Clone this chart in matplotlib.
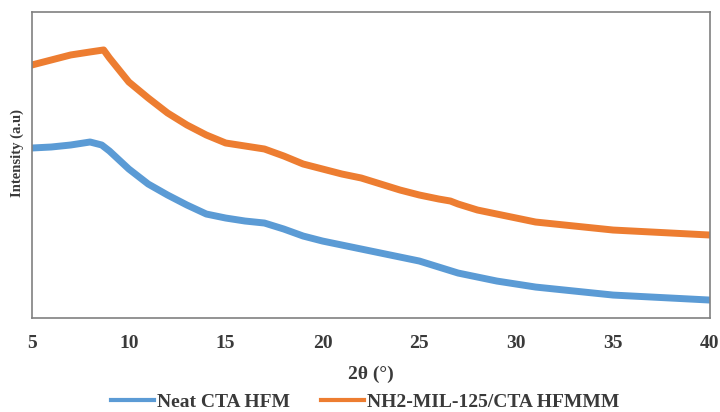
import numpy as np
import matplotlib.pyplot as plt

# values (arbitrary intensity units)
theta_neat = [5, 6, 7, 8, 8.6, 9, 10, 11, 12, 13, 14, 15, 16, 17, 18, 19, 20,
              21, 22, 23, 24, 25, 26, 27, 28, 29, 30, 31, 32, 33, 34, 35, 36,
              37, 38, 39, 40]
int_neat = [170, 171, 173, 176, 173, 167, 149, 134, 123, 113, 104, 100, 97, 95,
            89, 82, 77, 73, 69, 65, 61, 57, 51, 45, 41, 37, 34, 31, 29, 27, 25,
            23, 22, 21, 20, 19, 18]

theta_mof = [5, 6, 7, 8, 8.7, 9, 10, 11, 12, 13, 14, 15, 16, 17, 18, 19, 20,
             21, 22, 23, 24, 25, 26, 26.6, 27, 28, 29, 30, 31, 32, 33, 34, 35,
             36, 37, 38, 39, 40]
int_mof = [253, 258, 263, 266, 268, 260, 236, 220, 205, 193, 183, 175, 172, 169,
           162, 154, 149, 144, 140, 134, 128, 123, 119, 117, 114, 108, 104, 100,
           96, 94, 92, 90, 88, 87, 86, 85, 84, 83]

labels = ["Neat CTA HFM", "NH2-MIL-125/CTA HFMMM"]
colors = ["#5B9BD5", "#ED7D31"]
txt_color = "#3a3a3a"

plt.rcParams['font.family'] = ['Liberation Serif', 'DejaVu Serif']
plt.rcParams['font.weight'] = 'bold'

fig = plt.figure(figsize=(7.2, 4.12), dpi=100)
ax = fig.add_axes([0.0444, 0.228, 0.9416, 0.743])

ax.plot(theta_neat, int_neat, color=colors[0], lw=5, label=labels[0],
        solid_joinstyle='round')
ax.plot(theta_mof, int_mof, color=colors[1], lw=5, label=labels[1],
        solid_joinstyle='round')

ax.set_xlim(5, 40)
ax.set_ylim(0, 306)
ax.set_xticks(range(5, 41, 5))
ax.set_yticks([])
ax.tick_params(axis='x', length=0, pad=12, labelsize=14, colors=txt_color)
for lbl in ax.get_xticklabels():
    lbl.set_fontweight('bold')
for sp in ax.spines.values():
    sp.set_color('#808080')
    sp.set_linewidth(1.2)

ax.set_xlabel("2θ (°)", fontsize=14, fontweight='bold', color=txt_color)
ax.xaxis.label.set_va('center')
ax.xaxis.set_label_coords(0.5, -0.185)
ax.set_ylabel("Intensity (a.u)", fontsize=10.5, fontweight='bold', color=txt_color)
ax.yaxis.label.set_va('center')
ax.yaxis.set_label_coords(-0.021, 0.54)

leg = fig.legend(loc='center', bbox_to_anchor=(0.507, 0.024), ncol=2, frameon=False,
                 prop={'size': 14, 'weight': 'bold'}, handlelength=2.2,
                 columnspacing=1.6, handletextpad=0.15)
for t in leg.get_texts():
    t.set_color(txt_color)
for h in leg.legend_handles:
    h.set_linewidth(3)

plt.savefig("out.png", dpi=100)
